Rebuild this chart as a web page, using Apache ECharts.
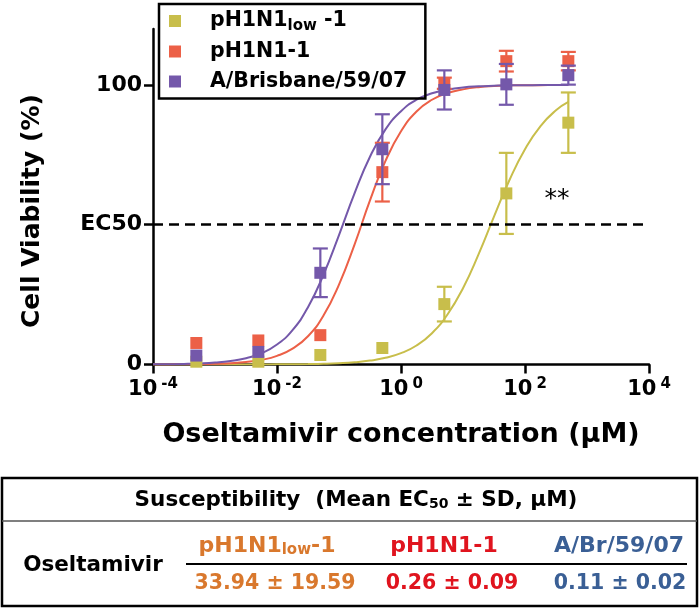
<!DOCTYPE html>
<html>
<head>
<meta charset="utf-8">
<script src="https://cdn.jsdelivr.net/npm/echarts@6/dist/echarts.min.js"></script>
<style>html,body{margin:0;padding:0;background:#fff}#c{width:700px;height:611px}</style>
</head>
<body>
<div id="c"></div>
<script>
// ---- data ----
const strains = ['pH1N1low-1', 'pH1N1-1', 'A/Brisbane/59/07'];
const conc = [0.0005, 0.005, 0.05, 0.5, 5, 50, 500];
const yellowMean = [1, 1, 3.4, 5.9, 21.6, 61.2, 86.5];
const yellowSD   = [0, 0, 0, 0, 6.2, 14.5, 10.8];
const redMean    = [7.7, 8.6, 10.5, 68.8, 100.6, 108.5, 108.5];
const redSD      = [0, 0, 0, 10.5, 2, 3.7, 3.3];
const purpleMean = [3.2, 4.5, 32.8, 77, 98.2, 100.2, 103.5];
const purpleSD   = [0, 0, 8.7, 12.5, 7, 7.3, 3.4];
// fitted curves
const curveX = [0.0001, 0.000178, 0.000316, 0.000562, 0.001, 0.00178, 0.00316, 0.00562, 0.01, 0.0178, 0.0316, 0.0562, 0.1, 0.178, 0.316, 0.562, 1, 1.78, 3.16, 5.62, 10, 17.8, 31.6, 56.2, 100, 178, 316, 500];
const yellowCurve = [0, 0, 0, 0, 0.01, 0.01, 0.02, 0.03, 0.05, 0.09, 0.16, 0.27, 0.47, 0.81, 1.39, 2.39, 4.05, 6.8, 11.2, 17.9, 27.3, 39.4, 52.9, 66.0, 77.0, 85.3, 90.9, 93.9];
const redCurve = [0.02, 0.04, 0.07, 0.13, 0.25, 0.47, 0.89, 1.66, 3.08, 5.65, 10.1, 17.5, 28.6, 42.9, 58.7, 72.8, 83.4, 90.5, 94.7, 97.1, 98.4, 99.2, 99.6, 99.8, 99.9, 99.9, 100, 100];
const purpleCurve = [0.06, 0.11, 0.2, 0.37, 0.68, 1.24, 2.25, 4.03, 7.14, 12.3, 20.5, 32.1, 46.3, 61.2, 74.3, 84.1, 90.6, 94.7, 97.0, 98.3, 99.1, 99.5, 99.7, 99.85, 99.9, 99.95, 100, 100];
const xTicks = [0.0001, 0.01, 1, 100, 10000];
const yTicks = [0, 50, 100];
const ec50Level = 50;
const tableDrug = 'Oseltamivir';
const tableStrains = ['pH1N1low-1', 'pH1N1-1', 'A/Br/59/07'];
const tableValues = ['33.94 ± 19.59', '0.26 ± 0.09', '0.11 ± 0.02'];

const FONT = 'DejaVu Sans';
const colors = ['#c8be4b', '#ec6047', '#7458aa'];
const tableColors = ['#d9782d', '#e0141e', '#3a5f95'];
const means = [yellowMean, redMean, purpleMean];
const sds = [yellowSD, redSD, purpleSD];
const curves = [yellowCurve, redCurve, purpleCurve];

const chart = echarts.init(document.getElementById('c'));

const series = [];
curves.forEach((cv, k) => {
  const s = {
    type: 'line', name: 'fit' + k, data: curveX.map((x, i) => [x, cv[i]]),
    smooth: true, showSymbol: false, silent: true, z: 2,
    lineStyle: { color: colors[k], width: 2 }, itemStyle: { color: colors[k] }
  };
  if (k === 0) {
    s.markLine = {
      silent: true, symbol: 'none', label: { show: false },
      lineStyle: { color: '#000', type: [10, 6], width: 2.5 },
      data: [{ yAxis: ec50Level }]
    };
  }
  series.push(s);
});
[0, 1, 2].forEach(k => {
  series.push({
    type: 'custom', name: 'err' + k, silent: true, z: 3 + k * 2,
    data: conc.map((x, i) => [x, means[k][i], sds[k][i]]),
    encode: { x: 0, y: 1 },
    renderItem: (params, api) => {
      const x = api.value(0), m = api.value(1), s = api.value(2);
      if (!s) return { type: 'group', children: [] };
      const t = api.coord([x, m + s]), b = api.coord([x, m - s]);
      const hw = 7.5, st = { stroke: colors[k], lineWidth: 2.2 };
      return { type: 'group', children: [
        { type: 'line', shape: { x1: t[0], y1: t[1], x2: b[0], y2: b[1] }, style: st },
        { type: 'line', shape: { x1: t[0] - hw, y1: t[1], x2: t[0] + hw, y2: t[1] }, style: st },
        { type: 'line', shape: { x1: b[0] - hw, y1: b[1], x2: b[0] + hw, y2: b[1] }, style: st }
      ] };
    }
  });
  series.push({
    type: 'scatter', name: strains[k], symbol: 'rect', symbolSize: 12, z: 4 + k * 2,
    data: conc.map((x, i) => [x, means[k][i]]),
    itemStyle: { color: colors[k], opacity: 1 }
  });
});

const tableX = [267, 444, 619];
const valueX = [275, 452, 620];
const graphic = [
  { type: 'text', x: 32, y: 211, rotation: Math.PI / 2,
    style: { text: 'Cell Viability (%)', fontFamily: FONT, fontWeight: 'bold', fontSize: 25, fill: '#000', align: 'center', verticalAlign: 'middle' } },
  { type: 'text', x: 557, y: 199,
    style: { text: '**', fontFamily: FONT, fontSize: 25, fill: '#000', align: 'center', verticalAlign: 'middle' } },
  { type: 'rect', shape: { x: 2, y: 478, width: 695, height: 128 }, style: { fill: 'none', stroke: '#000', lineWidth: 2.5 } },
  { type: 'line', shape: { x1: 2, y1: 521, x2: 697, y2: 521 }, style: { stroke: '#555', lineWidth: 1.5 } },
  { type: 'line', shape: { x1: 186, y1: 564, x2: 687, y2: 564 }, style: { stroke: '#000', lineWidth: 2 } },
  { type: 'text', x: 356, y: 500,
    style: { text: '{a|Susceptibility  (Mean EC}{s|50}{a| ± SD, μM)}', align: 'center', verticalAlign: 'middle', fill: '#000',
      rich: { a: { fontFamily: FONT, fontWeight: 'bold', fontSize: 21.5, lineHeight: 26 },
              s: { fontFamily: FONT, fontWeight: 'bold', fontSize: 14, padding: [8, 0, 0, 0] } } } },
  { type: 'text', x: 93, y: 565,
    style: { text: tableDrug, fontFamily: FONT, fontWeight: 'bold', fontSize: 21.5, fill: '#000', align: 'center', verticalAlign: 'middle' } }
];
tableStrains.forEach((n, i) => {
  const txt = n === 'pH1N1low-1' ? '{a|pH1N1}{s|low}{a|-1}' : '{a|' + n + '}';
  graphic.push({ type: 'text', x: tableX[i], y: 546,
    style: { text: txt, align: 'center', verticalAlign: 'middle', fill: tableColors[i],
      rich: { a: { fontFamily: FONT, fontWeight: 'bold', fontSize: 22, lineHeight: 26, fill: tableColors[i], color: tableColors[i] },
              s: { fontFamily: FONT, fontWeight: 'bold', fontSize: 15, padding: [8, 0, 0, 0], fill: tableColors[i], color: tableColors[i] } } } });
  graphic.push({ type: 'text', x: valueX[i], y: 584,
    style: { text: tableValues[i], fontFamily: FONT, fontWeight: 'bold', fontSize: 20.5, fill: tableColors[i], align: 'center', verticalAlign: 'middle' } });
});

chart.setOption({
  animation: false,
  backgroundColor: '#fff',
  grid: { left: 153, right: 51, top: 29, bottom: 246.5, containLabel: false },
  legend: {
    orient: 'vertical', left: 159, top: 4, selectedMode: false,
    data: strains.map(n => ({ name: n, icon: 'rect' })),
    itemWidth: 12, itemHeight: 12, itemGap: 6,
    padding: [5, 18, 5, 10],
    borderColor: '#000', borderWidth: 2.5,
    textStyle: { fontFamily: FONT, fontWeight: 'bold', fontSize: 20.5, color: '#000', padding: [0, 0, 0, 24], lineHeight: 24,
      rich: { m: { fontFamily: FONT, fontWeight: 'bold', fontSize: 20.5, lineHeight: 24, color: '#000' },
              s: { fontFamily: FONT, fontWeight: 'bold', fontSize: 15, padding: [10, 0, 0, 0], color: '#000' } } },
    formatter: n => n === 'pH1N1low-1' ? '{m|pH1N1}{s|low}{m| -1}' : '{m|' + n + '}'
  },
  xAxis: {
    type: 'log', logBase: 10, min: 0.0001, max: 10000, splitNumber: 4,
    name: 'Oseltamivir concentration (μM)', nameLocation: 'middle', nameGap: 57,
    nameTextStyle: { fontFamily: FONT, fontWeight: 'bold', fontSize: 27, color: '#000' },
    axisLine: { lineStyle: { color: '#000', width: 2.5 } },
    axisTick: { show: true, length: 9, inside: false, lineStyle: { color: '#000', width: 2.5 }, customValues: xTicks },
    splitLine: { show: false },
    axisLabel: {
      customValues: xTicks, margin: 12, color: '#000', fontFamily: FONT, fontWeight: 'bold', fontSize: 21,
      formatter: v => {
        const e = Math.round(Math.log10(v));
        return '{b|10}{s|' + (e < 0 ? '-' + (-e) : e) + '}';
      },
      rich: { b: { fontFamily: FONT, fontWeight: 'bold', fontSize: 21, color: '#000', lineHeight: 26 },
              s: { fontFamily: FONT, fontWeight: 'bold', fontSize: 15, color: '#000', padding: [0, 0, 11, 4] } }
    }
  },
  yAxis: {
    type: 'value', min: 0, max: 120, interval: 50,
    axisLine: { show: true, lineStyle: { color: '#000', width: 2.5 } },
    axisTick: { show: true, length: 9, lineStyle: { color: '#000', width: 2.5 }, customValues: yTicks },
    splitLine: { show: false },
    axisLabel: { customValues: yTicks, margin: 11, fontFamily: FONT, fontWeight: 'bold', fontSize: 22, color: '#000',
      formatter: v => v === ec50Level ? 'EC50' : String(v) }
  },
  series: series,
  graphic: graphic
});
</script>
</body>
</html>
